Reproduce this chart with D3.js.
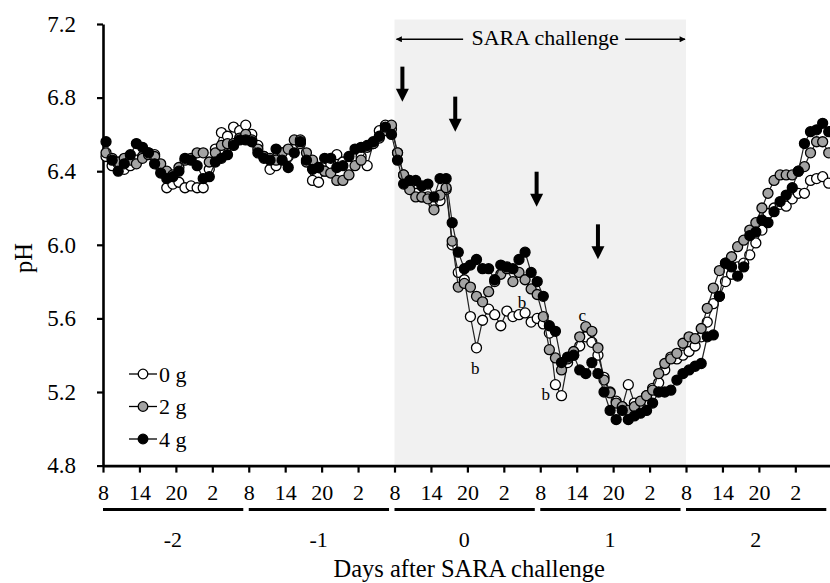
<!DOCTYPE html>
<html><head><meta charset="utf-8">
<script src="https://cdn.jsdelivr.net/npm/d3@7"></script>
<style>
body{margin:0;background:#fff}
svg{display:block}
text{font-family:"Liberation Serif","Times New Roman",serif;fill:#000}
</style>
</head><body><svg id="c" width="830" height="583"></svg>
<script>
// hour of measurement counted from 08:00 of day -2 (one reading per hour)
const hours = d3.range(0.5, 120, 1);
const ph0g = [
 6.48,6.43,6.44,6.41,6.43,6.46,6.48,6.50,6.49,6.42,6.31,6.33,6.34,6.31,6.32,6.31,6.31,6.41,6.52,6.61,6.59,6.64,6.62,6.65,
 6.60,6.54,6.48,6.41,6.43,6.50,6.48,6.53,6.55,6.45,6.35,6.34,6.40,6.44,6.49,6.45,6.43,6.47,6.48,6.43,6.55,6.62,6.65,6.63,
 6.50,6.38,6.33,6.28,6.26,6.26,6.22,6.24,6.30,6.00,5.85,5.81,5.61,5.44,5.59,5.65,5.62,5.56,5.64,5.61,5.62,5.63,5.58,5.60,
 5.57,5.52,5.24,5.18,5.36,5.40,5.45,5.50,5.47,5.40,5.28,5.20,5.15,5.12,5.24,5.14,5.12,5.18,5.22,5.25,5.32,5.39,5.38,5.40,
 5.42,5.45,5.50,5.58,5.68,5.72,5.80,5.84,5.88,5.90,5.945,6.01,6.08,6.17,6.20,6.22,6.21,6.25,6.28,6.28,6.35,6.36,6.37,6.335
];
const ph2g = [
 6.50,6.47,6.45,6.47,6.46,6.44,6.47,6.49,6.48,6.44,6.40,6.38,6.42,6.46,6.47,6.50,6.50,6.45,6.50,6.54,6.55,6.55,6.58,6.60,
 6.57,6.52,6.48,6.47,6.46,6.50,6.52,6.57,6.57,6.50,6.46,6.42,6.40,6.39,6.35,6.35,6.38,6.43,6.46,6.53,6.55,6.58,6.62,6.65,
 6.50,6.38,6.30,6.26,6.26,6.25,6.19,6.27,6.31,6.02,5.77,5.79,5.77,5.72,5.69,5.745,5.80,5.84,5.87,5.80,5.85,5.81,5.76,5.73,
 5.61,5.43,5.385,5.32,5.38,5.42,5.50,5.555,5.53,5.44,5.265,5.195,5.14,5.12,5.10,5.12,5.15,5.18,5.21,5.30,5.355,5.38,5.41,5.465,
 5.50,5.49,5.545,5.655,5.765,5.86,5.90,5.935,5.99,6.025,6.08,6.12,6.20,6.28,6.35,6.38,6.38,6.38,6.40,6.425,6.50,6.56,6.56,6.50
];
const ph4g = [
 6.56,6.46,6.40,6.44,6.49,6.55,6.53,6.50,6.44,6.39,6.36,6.37,6.40,6.47,6.46,6.43,6.36,6.37,6.45,6.47,6.49,6.54,6.57,6.57,
 6.56,6.50,6.47,6.46,6.52,6.46,6.42,6.50,6.56,6.46,6.41,6.42,6.47,6.47,6.42,6.43,6.48,6.52,6.53,6.54,6.56,6.59,6.64,6.60,
 6.46,6.33,6.35,6.35,6.32,6.33,6.26,6.36,6.36,6.12,5.96,5.87,5.89,5.92,5.87,5.87,5.81,5.89,5.88,5.87,5.92,5.96,5.85,5.80,
 5.72,5.56,5.53,5.36,5.39,5.40,5.32,5.30,5.36,5.30,5.20,5.10,5.05,5.10,5.05,5.07,5.085,5.10,5.14,5.20,5.20,5.21,5.265,5.30,
 5.32,5.34,5.355,5.50,5.51,5.72,5.90,5.88,5.83,5.88,6.05,6.07,6.135,6.12,6.18,6.235,6.27,6.31,6.40,6.55,6.615,6.625,6.66,6.615
];
const seriesNames = ["0 g", "2 g", "4 g"];
const seriesFills = ["#ffffff", "#a3a3a3", "#000000"];
const yTickValues = [4.8, 5.2, 5.6, 6.0, 6.4, 6.8, 7.2];
const xTickHours = [0,6,12,18,24,30,36,42,48,54,60,66,72,78,84,90,96,102,108,114];
const clockLabels = ["8", "14", "20", "2"];
const dayLabels = ["-2", "-1", "0", "1", "2"];
const challengeWindow = [48, 96];
const feedHours = [49.3, 58.0, 71.4, 81.5];
const feedTipPH = [6.778, 6.615, 6.207, 5.921];
const letterText = ["b", "b", "b", "c"];
const letterHour = [61.3, 69.0, 72.9, 78.9];
const letterPH = [5.33, 5.69, 5.19, 5.62];

const svg = d3.select("#c");
const x = d3.scaleLinear().domain([0, 120]).range([103, 103 + 120 * 6.073]);
const y = d3.scaleLinear().domain([4.8, 7.2]).range([465.6, 24]);

// shaded SARA challenge window
svg.append("rect")
  .attr("x", x(challengeWindow[0])).attr("y", 19.5)
  .attr("width", x(challengeWindow[1]) - x(challengeWindow[0]))
  .attr("height", y(4.8) - 19.5)
  .attr("fill", "#f1f1f1");

// SARA challenge header with double arrow
const defs = svg.append("defs");
defs.append("marker").attr("id", "ah").attr("viewBox", "0 0 10 10")
  .attr("refX", 9).attr("refY", 5).attr("markerWidth", 9).attr("markerHeight", 6)
  .attr("markerUnits", "userSpaceOnUse").attr("orient", "auto")
  .append("path").attr("d", "M0,0L10,5L0,10z").attr("fill", "#000");
const midX = x(72.8);
svg.append("text").attr("x", midX).attr("y", 45)
  .attr("text-anchor", "middle").attr("font-size", 22).text("SARA challenge");
svg.append("line").attr("x1", midX - 82).attr("x2", x(challengeWindow[0]) + 2)
  .attr("y1", 39.3).attr("y2", 39.3).attr("stroke", "#000").attr("stroke-width", 1.4)
  .attr("marker-end", "url(#ah)");
svg.append("line").attr("x1", midX + 80).attr("x2", x(challengeWindow[1]) - 1)
  .attr("y1", 39.3).attr("y2", 39.3).attr("stroke", "#000").attr("stroke-width", 1.4)
  .attr("marker-end", "url(#ah)");

// feeding arrows
feedHours.forEach((h, i) => {
  const cx = x(h), tip = y(feedTipPH[i]);
  svg.append("rect").attr("x", cx - 2).attr("y", tip - 35).attr("width", 4).attr("height", 24).attr("fill", "#000");
  svg.append("path").attr("d", `M${cx - 6.5},${tip - 13}L${cx + 6.5},${tip - 13}L${cx},${tip}z`).attr("fill", "#000");
});

// axes
const yAxis = svg.append("g").attr("transform", `translate(${x(0)},0)`)
  .call(d3.axisLeft(y).tickValues(yTickValues).tickFormat(d3.format(".1f")).tickSize(6).tickSizeOuter(0).tickPadding(21));
const xAxis = svg.append("g").attr("transform", `translate(0,${y(4.8)})`)
  .call(d3.axisBottom(x).tickValues(xTickHours).tickFormat(d => clockLabels[(d / 6) % 4]).tickSize(7).tickSizeOuter(0).tickPadding(12));
[yAxis, xAxis].forEach(g => {
  g.select(".domain").attr("stroke", "#000").attr("stroke-width", 2.6);
  g.selectAll(".tick line").attr("stroke", "#000").attr("stroke-width", 2.2);
  g.selectAll("text").attr("font-size", 22).attr("font-family", "Liberation Serif, Times New Roman, serif");
});
yAxis.selectAll("text").attr("font-size", 23);

// day underline bars and labels
dayLabels.forEach((d, i) => {
  svg.append("line").attr("x1", x(i * 24)).attr("x2", x(i * 24 + 23.1))
    .attr("y1", 509.5).attr("y2", 509.5).attr("stroke", "#000").attr("stroke-width", 3.2);
  svg.append("text").attr("x", x(i * 24 + 11.5)).attr("y", 539).attr("dy", "0.35em")
    .attr("text-anchor", "middle").attr("font-size", 22).text(d);
});
svg.append("text").attr("x", x(60.3)).attr("y", 577)
  .attr("text-anchor", "middle").attr("font-size", 24.5).text("Days after SARA challenge");
svg.append("text").attr("transform", "translate(31.5,258) rotate(-90)")
  .attr("text-anchor", "middle").attr("font-size", 24.5).text("pH");

// series
const allSeries = [ph0g, ph2g, ph4g];
const line = d3.line().x((d, i) => x(hours[i])).y(d => y(d));
allSeries.forEach((vals, s) => {
  const g = svg.append("g");
  g.append("path").datum(vals).attr("d", line).attr("fill", "none")
    .attr("stroke", "#222").attr("stroke-width", 1.2);
  g.selectAll("circle").data(vals).join("circle")
    .attr("cx", (d, i) => x(hours[i])).attr("cy", d => y(d)).attr("r", 5)
    .attr("fill", seriesFills[s]).attr("stroke", "#000").attr("stroke-width", 1.3);
});

// significance letters
letterText.forEach((t, i) => {
  svg.append("text").attr("x", x(letterHour[i])).attr("y", y(letterPH[i])).attr("dy", "0.35em")
    .attr("text-anchor", "middle").attr("font-size", 17).text(t);
});

// legend
seriesNames.forEach((n, i) => {
  const ly = 374 + i * 32.5;
  svg.append("line").attr("x1", 129).attr("x2", 157).attr("y1", ly).attr("y2", ly)
    .attr("stroke", "#000").attr("stroke-width", 1.3);
  svg.append("circle").attr("cx", 143).attr("cy", ly).attr("r", 4.8)
    .attr("fill", seriesFills[i]).attr("stroke", "#000").attr("stroke-width", 1.3);
  svg.append("text").attr("x", 159).attr("y", ly).attr("dy", "0.35em")
    .attr("font-size", 22).text(n);
});
</script>
</body></html>
